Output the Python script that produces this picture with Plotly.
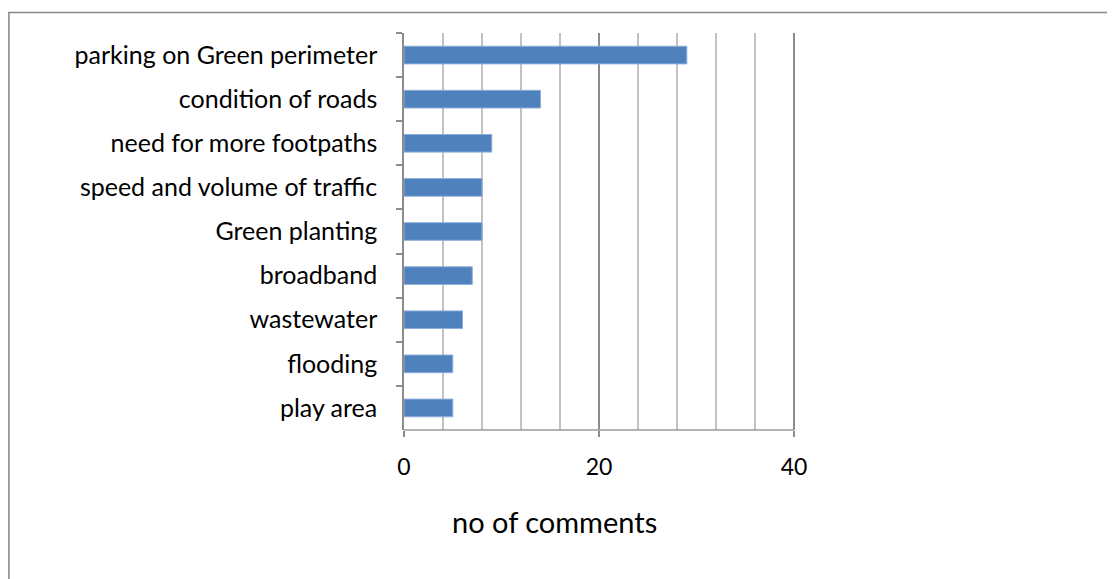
import plotly.graph_objects as go

categories = [
    "parking on Green perimeter",
    "condition of roads",
    "need for more footpaths",
    "speed and volume of traffic",
    "Green planting",
    "broadband",
    "wastewater",
    "flooding",
    "play area",
]
values = [29, 14, 9, 8, 8, 7, 6, 5, 5]
x_ticks = [0, 20, 40]
minor_ticks = [4, 8, 12, 16, 24, 28, 32, 36]
axis_title = "no of comments"

FONT = "Lato"
OFF = 8  # page body margin
X_MAX = 40.5
UNIT = (794 - 404) / 40.0
W, H = 1115 - OFF, 579 - OFF
L, T, B = 404 - OFF, 33 - OFF, 579 - 430
R = 1115 - (404 + UNIT * X_MAX)

fig = go.Figure(
    go.Bar(
        x=values,
        y=categories,
        orientation="h",
        marker=dict(color="#4F81BD", line=dict(color="#8EAEDB", width=1)),
        width=0.4,
    )
)

pw = W - L - R
ph = H - T - B

def px_to_paper_x(px):
    return (px - OFF - L) / pw

def px_to_paper_y(py):
    return (H - B - (py - OFF)) / ph

fig.add_shape(
    type="rect",
    xref="paper", yref="paper",
    x0=px_to_paper_x(9), x1=px_to_paper_x(1125),
    y0=px_to_paper_y(590), y1=px_to_paper_y(12.5),
    line=dict(color="#868686", width=1.5),
    fillcolor="rgba(0,0,0,0)",
    layer="below",
)

fig.add_annotation(
    text=axis_title,
    xref="paper", yref="paper",
    x=px_to_paper_x(554), y=px_to_paper_y(521),
    xanchor="center", yanchor="middle",
    showarrow=False,
    font=dict(family=FONT, size=29, color="black"),
)

fig.update_layout(
    width=W, height=H,
    margin=dict(l=L, r=R, t=T, b=B, autoexpand=False),
    plot_bgcolor="white",
    paper_bgcolor="white",
    showlegend=False,
    font=dict(family=FONT, color="black", size=25),
)

fig.update_xaxes(
    range=[0, X_MAX],
    tickvals=x_ticks,
    ticks="outside",
    ticklen=6,
    tickwidth=1.5,
    tickcolor="#8C8C8C",
    showline=False,
    showgrid=True,
    gridcolor="#8C8C8C",
    gridwidth=1.5,
    zeroline=False,
    minor=dict(tickvals=minor_ticks, showgrid=True,
               gridcolor="#C2C2C2", gridwidth=1.5, ticks=""),
    tickfont=dict(family=FONT, size=23),
    ticklabelstandoff=10,
)

fig.update_yaxes(
    categoryorder="array",
    categoryarray=categories,
    range=[8.5, -0.5],
    ticks="outside",
    ticklen=6,
    tickwidth=1.5,
    tickcolor="#8C8C8C",
    tickson="boundaries",
    showline=True,
    linecolor="#8C8C8C",
    linewidth=1.5,
    showgrid=False,
    zeroline=False,
    tickfont=dict(family=FONT, size=25),
    ticklabelstandoff=20,
)

# bottom axis line spanning only 0..40 as in the reference
fig.add_shape(
    type="line",
    xref="x", yref="paper",
    x0=x_ticks[0], x1=x_ticks[-1], y0=0, y1=0,
    line=dict(color="#9A9A9A", width=1.5),
)

fig.write_html("out.html")
